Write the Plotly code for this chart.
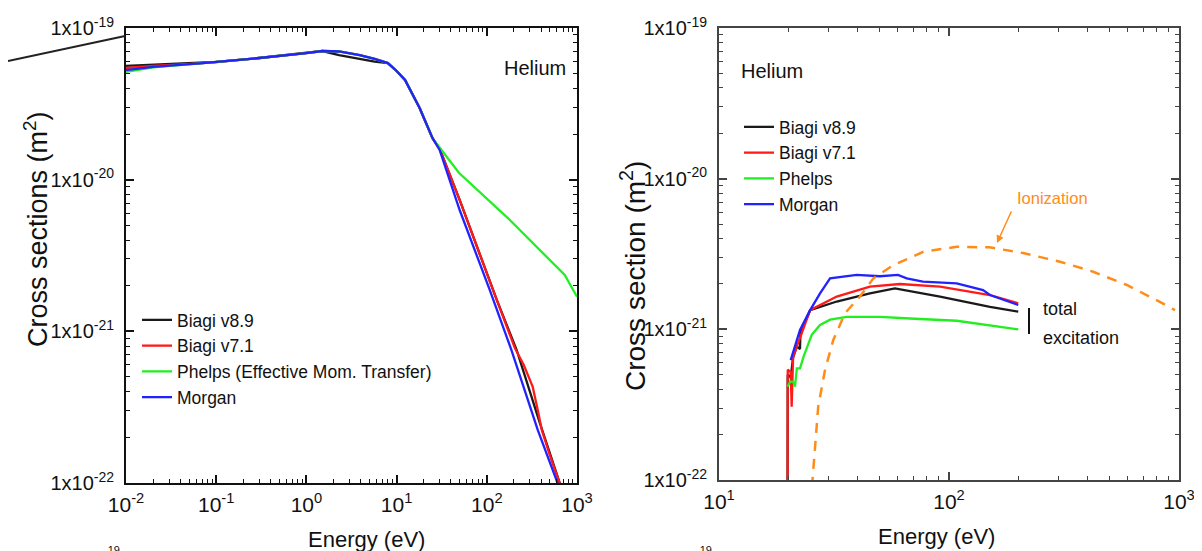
import plotly.graph_objects as go

W, H = 1202, 551
OFF = 8  # page body margin offset

# ---------------- Left panel: momentum-transfer cross sections ----------------
E_biagi89_L = [0.01, 0.02, 0.066, 0.1, 0.3, 1.0, 1.5, 2.3, 3.9, 5.7, 8.0, 10, 12.4, 18, 25, 30, 50, 129, 215, 387, 644, 700]
S_biagi89_L = [5.62e-20, 5.72e-20, 5.85e-20, 5.97e-20, 6.34e-20, 6.84e-20, 7.05e-20, 6.63e-20, 6.25e-20, 6.0e-20, 5.87e-20,
               5.21e-20, 4.54e-20, 2.97e-20, 1.88e-20, 1.6e-20, 7.35e-21, 1.61e-21, 7.5e-22, 2.49e-22, 1.0e-22, 8.6e-23]

E_biagi71_L = [0.01, 0.02, 0.066, 0.1, 0.3, 1.0, 1.5, 2.3, 3.9, 5.7, 8.0, 10, 12.4, 18, 25, 30, 50, 129, 204, 257, 323, 367,
               407, 499, 644, 700]
S_biagi71_L = [5.45e-20, 5.62e-20, 5.85e-20, 5.97e-20, 6.34e-20, 6.84e-20, 7.05e-20, 7.0e-20, 6.63e-20, 6.25e-20, 5.87e-20,
               5.21e-20, 4.54e-20, 2.97e-20, 1.88e-20, 1.6e-20, 7.35e-21, 1.61e-21, 7.8e-22, 6.0e-22, 4.3e-22, 3.03e-22,
               2.24e-22, 1.53e-22, 1.0e-22, 8.6e-23]

E_phelps_L = [0.01, 0.02, 0.066, 0.1, 0.3, 1.0, 1.5, 2.3, 3.9, 5.7, 8.0, 10, 12.4, 18, 25, 49, 180, 731, 1000]
S_phelps_L = [5.13e-20, 5.5e-20, 5.85e-20, 5.97e-20, 6.34e-20, 6.84e-20, 7.05e-20, 7.0e-20, 6.63e-20, 6.25e-20, 5.87e-20,
              5.21e-20, 4.54e-20, 2.97e-20, 1.88e-20, 1.11e-20, 5.42e-21, 2.35e-21, 1.69e-21]

E_morgan_L = [0.01, 0.02, 0.066, 0.1, 0.3, 1.0, 1.5, 2.3, 3.9, 5.7, 8.0, 10, 12.4, 18, 25, 30, 50, 108, 188, 367, 612, 700]
S_morgan_L = [5.28e-20, 5.55e-20, 5.85e-20, 5.97e-20, 6.34e-20, 6.84e-20, 7.05e-20, 7.0e-20, 6.63e-20, 6.25e-20, 5.87e-20,
              5.21e-20, 4.54e-20, 2.97e-20, 1.88e-20, 1.57e-20, 6.31e-21, 1.87e-21, 7.5e-22, 2.24e-22, 1.0e-22, 8.0e-23]

# ---------------- Right panel: total excitation + ionization ----------------
E_biagi89_R = [19.82, 19.9, 20.5, 21.0, 21.8, 22.5, 22.6, 24.9, 32.5, 45.3, 58.2, 91.4, 150.7, 200]
S_biagi89_R = [1e-23, 5.0e-22, 4.8e-22, 6.5e-22, 7.7e-22, 7.4e-22, 9.5e-22, 1.34e-21, 1.53e-21, 1.73e-21, 1.87e-21,
               1.65e-21, 1.41e-21, 1.31e-21]

E_biagi71_R = [19.82, 19.9, 20.5, 20.7, 21.0, 21.8, 22.9, 24.9, 32.5, 45.3, 61.2, 91.4, 150.7, 200]
S_biagi71_R = [1e-23, 5.4e-22, 5.2e-22, 3.07e-22, 6.57e-22, 7.67e-22, 9.4e-22, 1.34e-21, 1.65e-21, 1.92e-21, 2.0e-21,
               1.92e-21, 1.69e-21, 1.49e-21]

E_phelps_R = [19.9, 20.4, 21.0, 21.4, 21.8, 22.5, 23.3, 25.3, 27.5, 30.4, 35.9, 50.1, 67.6, 108, 200]
S_phelps_R = [4.17e-22, 4.5e-22, 4.5e-22, 4.17e-22, 5.5e-22, 5.5e-22, 6.57e-22, 9.2e-22, 1.07e-21, 1.16e-21, 1.21e-21,
              1.21e-21, 1.18e-21, 1.14e-21, 1.0e-21]

E_morgan_R = [20.5, 22.5, 24.9, 27.5, 30.4, 39.7, 50.1, 60, 65.5, 77, 108, 140.6, 150.7, 200]
S_morgan_R = [6.25e-22, 9.9e-22, 1.34e-21, 1.73e-21, 2.18e-21, 2.30e-21, 2.25e-21, 2.30e-21, 2.18e-21, 2.07e-21, 2.02e-21,
              1.82e-21, 1.69e-21, 1.45e-21]

E_ion = [25.0, 25.5, 27.0, 28.9, 31.4, 35.3, 41.0, 46.9, 57.3, 77.4, 108, 150, 210, 304, 424, 593, 826, 961]
S_ion = [3e-23, 1.0e-22, 3.07e-22, 5.37e-22, 8.5e-22, 1.28e-21, 1.65e-21, 2.18e-21, 2.67e-21, 3.27e-21, 3.53e-21, 3.5e-21,
         3.21e-21, 2.81e-21, 2.41e-21, 1.97e-21, 1.52e-21, 1.34e-21]

names_L = ["Biagi v8.9", "Biagi v7.1", "Phelps (Effective Mom. Transfer)", "Morgan"]
names_R = ["Biagi v8.9", "Biagi v7.1", "Phelps", "Morgan"]
colors = ["#1a1a1a", "#ff1a1a", "#22ee22", "#2222ff"]

xticks_L = [1e-2, 1e-1, 1e0, 1e1, 1e2, 1e3]
xticktext_L = ["10<sup>-2</sup>", "10<sup>-1</sup>", "10<sup>0</sup>", "10<sup>1</sup>", "10<sup>2</sup>", "10<sup>3</sup>"]
xticks_R = [1e1, 1e2, 1e3]
xticktext_R = ["10<sup>1</sup>", "10<sup>2</sup>", "10<sup>3</sup>"]
yticks = [1e-22, 1e-21, 1e-20, 1e-19]
yticktext = ["1x10<sup>-22</sup>", "1x10<sup>-21</sup>", "1x10<sup>-20</sup>", "1x10<sup>-19</sup>"]

FONT = "Liberation Sans Narrow, Arial Narrow, Liberation Sans, Arial, sans-serif"
WIDE = "Liberation Sans, Arial, sans-serif"


def px(x):
    # screen pixel -> paper fraction
    return (x - OFF) / W


def py(y):
    return 1 - (y - OFF) / H


def minor_vals(lo, hi):
    return [k * 10.0 ** p for p in range(lo, hi) for k in range(2, 10)]


fig = go.Figure()

left = [(E_biagi89_L, S_biagi89_L), (E_biagi71_L, S_biagi71_L), (E_phelps_L, S_phelps_L), (E_morgan_L, S_morgan_L)]
for (e, s), n, c in zip(left, names_L, colors):
    fig.add_trace(go.Scatter(x=e, y=s, mode="lines", name=n, line=dict(color=c, width=2.3),
                             xaxis="x", yaxis="y", legend="legend"))

right = [(E_biagi89_R, S_biagi89_R), (E_biagi71_R, S_biagi71_R), (E_phelps_R, S_phelps_R), (E_morgan_R, S_morgan_R)]
for (e, s), n, c in zip(right, names_R, colors):
    fig.add_trace(go.Scatter(x=e, y=s, mode="lines", name=n, line=dict(color=c, width=2.3),
                             xaxis="x2", yaxis="y2", legend="legend2"))

fig.add_trace(go.Scatter(x=E_ion, y=S_ion, mode="lines", name="Ionization", showlegend=False,
                         line=dict(color="#ff8c1a", width=2.5, dash="10px,8px"), xaxis="x2", yaxis="y2"))

xtickfont = dict(family=FONT, size=21, color="#111")
ytickfont = dict(family=FONT, size=20, color="#111")


def axis_common(linecolor):
    return dict(type="log", showline=True, linecolor=linecolor, linewidth=2, mirror="ticks",
                ticks="inside", ticklen=8, tickwidth=1.5, tickcolor=linecolor, showgrid=False, zeroline=False,
                tickmode="array", automargin=False)


xa = axis_common("#111")
xa.update(domain=[px(126), px(577)], range=[-2, 3], anchor="y", tickvals=xticks_L, ticktext=xticktext_L,
          tickfont=xtickfont, ticklabelstandoff=2,
          minor=dict(ticks="inside", ticklen=4, tickcolor="#111", tickwidth=1.2, tickmode="array",
                     tickvals=minor_vals(-2, 3), showgrid=False))
ya = axis_common("#111")
ya.update(domain=[py(483), py(28)], range=[-22, -19], anchor="x", tickvals=yticks, ticktext=yticktext,
          tickfont=ytickfont, ticklabelstandoff=6,
          minor=dict(ticks="inside", ticklen=4, tickcolor="#111", tickwidth=1.2, tickmode="array",
                     tickvals=minor_vals(-22, -19), showgrid=False))
xa2 = axis_common("#444")
xa2.update(domain=[px(719), px(1179)], range=[1, 3], anchor="y2", tickvals=xticks_R, ticktext=xticktext_R,
           tickfont=xtickfont, ticklabelstandoff=2,
           minor=dict(ticks="inside", ticklen=4, tickcolor="#444", tickwidth=1.2, tickmode="array",
                      tickvals=minor_vals(1, 3), showgrid=False))
ya2 = axis_common("#444")
ya2.update(domain=[py(480), py(28)], range=[-22, -19], anchor="x2", tickvals=yticks, ticktext=yticktext,
           tickfont=ytickfont, ticklabelstandoff=6,
           minor=dict(ticks="inside", ticklen=4, tickcolor="#444", tickwidth=1.2, tickmode="array",
                      tickvals=minor_vals(-22, -19), showgrid=False))

legfont = dict(family=FONT, size=17.5, color="#111")

fig.update_layout(
    width=W, height=H, autosize=False,
    margin=dict(l=0, r=0, t=0, b=0, pad=0, autoexpand=False),
    paper_bgcolor="white", plot_bgcolor="white",
    xaxis=xa, yaxis=ya, xaxis2=xa2, yaxis2=ya2,
    legend=dict(x=px(137), y=py(302), xanchor="left", yanchor="top", font=legfont,
                bgcolor="rgba(0,0,0,0)", itemwidth=30, tracegroupgap=0),
    legend2=dict(x=px(739), y=py(109), xanchor="left", yanchor="top", font=legfont,
                 bgcolor="rgba(0,0,0,0)", itemwidth=30, tracegroupgap=0),
    showlegend=True,
)

ann = []


def text(x, y, t, size=20, family=FONT, color="#111", xanchor="center", angle=0):
    ann.append(dict(x=px(x), y=py(y), xref="paper", yref="paper", text=t, showarrow=False,
                    font=dict(family=family, size=size, color=color), xanchor=xanchor, yanchor="middle",
                    textangle=angle))


text(36, 229, "Cross sections (m<sup>2</sup>)", size=27, family=WIDE, angle=-90)
text(366, 539, "Energy (eV)", size=22)
text(633, 276, "Cross section (m<sup>2</sup>)", size=28, family=WIDE, angle=-90)
text(936, 536, "Energy (eV)", size=22)
text(568, 68, "Helium", size=20, xanchor="right")
text(739, 71, "Helium", size=20, xanchor="left")
text(1015, 198, "Ionization", size=16.5, color="#ff8c1a", xanchor="left")
text(1041, 309, "total", size=18, xanchor="left")
text(1041, 338, "excitation", size=18, xanchor="left")
text(112, 550, "-19", size=11, xanchor="center")
text(704, 550, "-19", size=11, xanchor="center")

ann.append(dict(x=px(997), y=py(243), xref="paper", yref="paper", text="", showarrow=True,
                ax=15, ay=-33, arrowhead=2, arrowsize=1, arrowwidth=1.5, arrowcolor="#ff8c1a"))

fig.update_layout(annotations=ann)

fig.update_layout(shapes=[
    dict(type="line", xref="paper", yref="paper", x0=px(8), y0=py(61), x1=px(125), y1=py(36),
         line=dict(color="#222", width=2)),
    dict(type="line", xref="paper", yref="paper", x0=px(1029), y0=py(308), x1=px(1029), y1=py(334),
         line=dict(color="#111", width=2)),
])

fig.write_html("out.html")
